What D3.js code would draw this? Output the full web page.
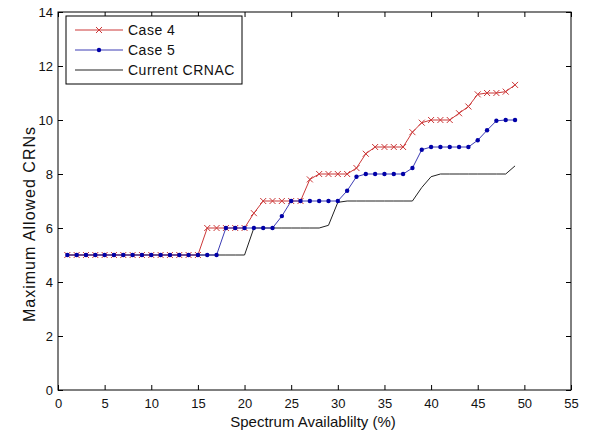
<!DOCTYPE html>
<html>
<head>
<meta charset="utf-8">
<script src="https://cdn.jsdelivr.net/npm/d3@7"></script>
<style>
  body { margin: 0; background: #fff; }
  text { font-family: "Liberation Sans", Arial, sans-serif; fill: #111; }
</style>
</head>
<body>
<div id="chart-area"></div>
<script>
// spectrum availability (%)
var xs = [1, 2, 3, 4, 5, 6, 7, 8, 9, 10, 11, 12, 13, 14, 15, 16, 17, 18, 19, 20,
          21, 22, 23, 24, 25, 26, 27, 28, 29, 30, 31, 32, 33, 34, 35, 36, 37, 38, 39, 40,
          41, 42, 43, 44, 45, 46, 47, 48, 49];

// Case 4
var case4 = [5, 5, 5, 5, 5, 5, 5, 5, 5, 5, 5, 5, 5, 5, 5, 6, 6, 6, 6, 6,
             6.55, 7, 7, 7, 7, 7, 7.8, 8, 8, 8, 8, 8.22, 8.75, 9, 9, 9, 9, 9.55, 9.9, 10,
             10, 10, 10.25, 10.5, 10.95, 11, 11, 11.05, 11.3];

// Case 5
var case5 = [5, 5, 5, 5, 5, 5, 5, 5, 5, 5, 5, 5, 5, 5, 5, 5, 5, 6, 6, 6,
             6, 6, 6, 6.44, 7, 7, 7, 7, 7, 7, 7.38, 7.9, 8, 8, 8, 8, 8, 8.22, 8.9, 9,
             9, 9, 9, 9, 9.25, 9.62, 9.97, 10, 10];

// Current CRNAC
var current = [5, 5, 5, 5, 5, 5, 5, 5, 5, 5, 5, 5, 5, 5, 5, 5, 5, 5, 5, 5,
               6, 6, 6, 6, 6, 6, 6, 6, 6.1, 6.95, 7, 7, 7, 7, 7, 7, 7, 7, 7.5, 7.9,
               8, 8, 8, 8, 8, 8, 8, 8, 8.3];

var xTicks = [0, 5, 10, 15, 20, 25, 30, 35, 40, 45, 50, 55];
var yTicks = [0, 2, 4, 6, 8, 10, 12, 14];
var legendNames = ["Case 4", "Case 5", "Current CRNAC"];

var W = 593, H = 437;
var axL = 58, axR = 571, axT = 12, axB = 390;

var svg = d3.select("#chart-area")
    .append("svg")
    .attr("width", W)
    .attr("height", H);

var x = d3.scaleLinear().domain([0, 55]).range([axL, axR]);
var y = d3.scaleLinear().domain([0, 14]).range([axB, axT]);

// axes with inward ticks on all four sides
svg.append("g")
    .attr("transform", "translate(0," + axB + ")")
    .call(d3.axisBottom(x).tickValues(xTicks).tickSize(-5).tickSizeOuter(0).tickPadding(9));
svg.append("g")
    .attr("transform", "translate(0," + axT + ")")
    .call(d3.axisTop(x).tickValues(xTicks).tickSize(-5).tickSizeOuter(0).tickFormat(""));
svg.append("g")
    .attr("transform", "translate(" + axL + ",0)")
    .call(d3.axisLeft(y).tickValues(yTicks).tickSize(-5).tickSizeOuter(0).tickPadding(5));
svg.append("g")
    .attr("transform", "translate(" + axR + ",0)")
    .call(d3.axisRight(y).tickValues(yTicks).tickSize(-5).tickSizeOuter(0).tickFormat(""));

svg.selectAll(".domain").remove();
svg.selectAll(".tick line").attr("stroke", "#000");
svg.selectAll(".tick text")
    .style("font-family", "'Liberation Sans', Arial, sans-serif")
    .style("font-size", "13px")
    .attr("fill", "#111");

// axes box
svg.append("rect")
    .attr("x", axL)
    .attr("y", axT)
    .attr("width", axR - axL)
    .attr("height", axB - axT)
    .attr("fill", "none")
    .attr("stroke", "#000")
    .attr("stroke-width", 1);

// axis labels
svg.append("text")
    .attr("x", 313)
    .attr("y", 427)
    .attr("text-anchor", "middle")
    .style("font-size", "15px")
    .text("Spectrum Availablilty (%)");

svg.append("text")
    .attr("transform", "translate(35,224) rotate(-90)")
    .attr("text-anchor", "middle")
    .style("font-size", "16px")
    .style("letter-spacing", "1px")
    .text("Maximum Allowed CRNs");

var line = function (vals) {
    return d3.line()
        .x(function (d, i) { return x(xs[i]); })
        .y(function (d) { return y(d); })(vals);
};

var red = "#cc3838", blueLine = "#3c3cb4", blueDot = "#0000a8";

// Current CRNAC
svg.append("path")
    .attr("d", line(current))
    .attr("fill", "none")
    .attr("stroke", "#222")
    .attr("stroke-width", 1);

// Case 4
svg.append("path")
    .attr("d", line(case4))
    .attr("fill", "none")
    .attr("stroke", red)
    .attr("stroke-width", 1);

var crossPath = "M-3,-3L3,3M-3,3L3,-3";
svg.selectAll(".m4")
    .data(case4)
    .enter()
    .append("path")
    .attr("class", "m4")
    .attr("transform", function (d, i) { return "translate(" + x(xs[i]) + "," + y(d) + ")"; })
    .attr("d", crossPath)
    .attr("stroke", red)
    .attr("stroke-width", 1)
    .attr("fill", "none");

// Case 5
svg.append("path")
    .attr("d", line(case5))
    .attr("fill", "none")
    .attr("stroke", blueLine)
    .attr("stroke-width", 1);

svg.selectAll(".m5")
    .data(case5)
    .enter()
    .append("circle")
    .attr("class", "m5")
    .attr("cx", function (d, i) { return x(xs[i]); })
    .attr("cy", function (d) { return y(d); })
    .attr("r", 2.2)
    .attr("fill", blueDot);

// legend
var lg = svg.append("g");
lg.append("rect")
    .attr("x", 66)
    .attr("y", 16)
    .attr("width", 176)
    .attr("height", 68)
    .attr("fill", "#fff")
    .attr("stroke", "#000");

var legendColors = [red, blueLine, "#222"];
legendNames.forEach(function (name, i) {
    var ly = 30 + i * 20;
    lg.append("line")
        .attr("x1", 75).attr("x2", 123)
        .attr("y1", ly).attr("y2", ly)
        .attr("stroke", legendColors[i]);
    if (i == 0) {
        lg.append("path")
            .attr("transform", "translate(99," + ly + ")")
            .attr("d", crossPath)
            .attr("stroke", red)
            .attr("fill", "none");
    }
    if (i == 1) {
        lg.append("circle")
            .attr("cx", 99).attr("cy", ly).attr("r", 2.2)
            .attr("fill", blueDot);
    }
    lg.append("text")
        .attr("x", 128)
        .attr("y", ly + 5)
        .style("font-size", "14px")
        .style("letter-spacing", "0.5px")
        .text(name);
});
</script>
</body>
</html>
